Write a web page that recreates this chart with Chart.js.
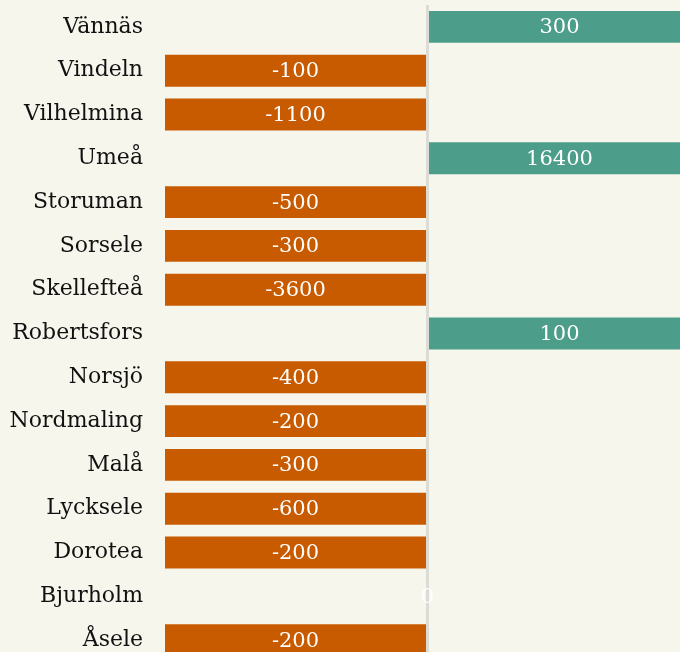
<!DOCTYPE html>
<html>
<head>
<meta charset="utf-8">
<script src="https://cdn.jsdelivr.net/npm/chart.js@4.4.1/dist/chart.umd.min.js"></script>
<style>
  html, body { margin: 0; padding: 0; background: #f7f6ec; overflow: hidden; }
  #wrap { width: 690px; height: 662px; }
</style>
</head>
<body>
<div id="wrap"><canvas id="chart" width="690" height="662"></canvas></div>
<script>
// Befolkningsförändring per kommun
const kommuner = ['Vännäs', 'Vindeln', 'Vilhelmina', 'Umeå', 'Storuman', 'Sorsele', 'Skellefteå',
  'Robertsfors', 'Norsjö', 'Nordmaling', 'Malå', 'Lycksele', 'Dorotea', 'Bjurholm', 'Åsele'];
const forandring = [300, -100, -1100, 16400, -500, -300, -3600, 100, -400, -200, -300, -600, -200, 0, -200];

const ORANGE = '#c85a00';
const TEAL = '#4c9e8a';

// etikett mitt i den synliga delen av stapeln
const barLabels = {
  id: 'barLabels',
  afterDatasetsDraw(chart) {
    const { ctx, chartArea } = chart;
    const meta = chart.getDatasetMeta(0);
    ctx.save();
    ctx.font = '21px "DejaVu Serif", serif';
    ctx.fillStyle = '#ffffff';
    ctx.textAlign = 'center';
    ctx.textBaseline = 'middle';
    meta.data.forEach((bar, i) => {
      const a = Math.min(Math.max(bar.x, chartArea.left), chartArea.right);
      const b = Math.min(Math.max(bar.base, chartArea.left), chartArea.right);
      ctx.fillText(String(forandring[i]), (a + b) / 2, bar.y + 1);
    });
    ctx.restore();
  }
};

new Chart(document.getElementById('chart'), {
  type: 'bar',
  data: {
    labels: kommuner,
    datasets: [{
      data: forandring,
      backgroundColor: forandring.map(v => v < 0 ? ORANGE : TEAL),
      borderWidth: 0,
      barPercentage: 0.81,
      categoryPercentage: 0.9
    }]
  },
  options: {
    indexAxis: 'y',
    responsive: false,
    animation: false,
    layout: { padding: 0 },
    plugins: {
      legend: { display: false },
      tooltip: { enabled: false }
    },
    scales: {
      x: {
        min: -100,
        max: 100,
        afterFit: s => { s.height = 0; },
        ticks: { display: false },
        border: { display: false },
        grid: {
          drawTicks: false,
          color: c => c.tick && c.tick.value === 0 ? '#dcdcd6' : 'rgba(0,0,0,0)',
          lineWidth: 3
        }
      },
      y: {
        afterFit: s => {
          s.width = 165;
          s.paddingTop = 5;
          s.paddingBottom = 0;
        },
        border: { display: false },
        grid: { display: false, drawTicks: false },
        ticks: {
          padding: 22,
          color: '#111',
          font: { family: '"DejaVu Serif", serif', size: 22 }
        }
      }
    }
  },
  plugins: [barLabels]
});
</script>
</body>
</html>
